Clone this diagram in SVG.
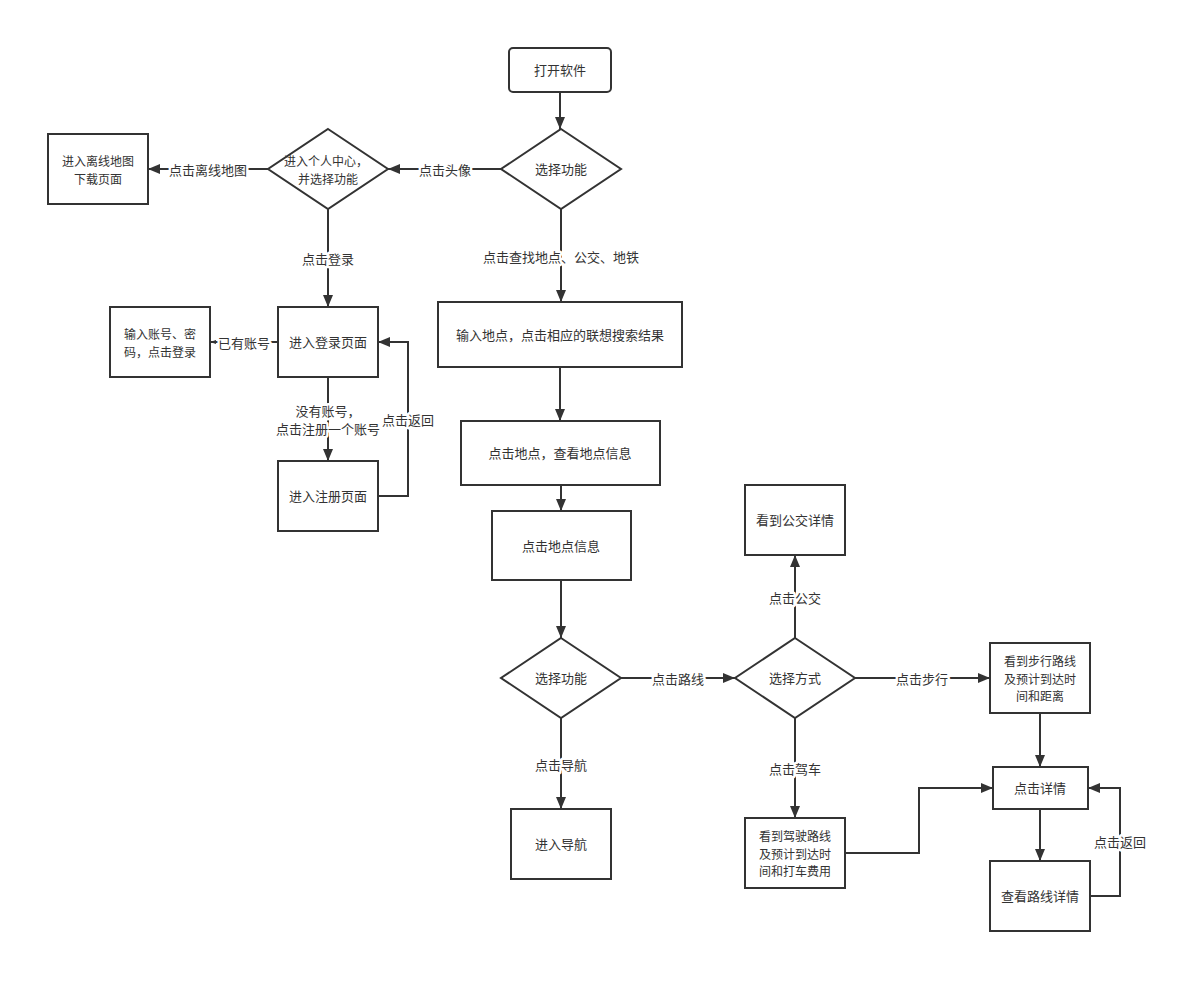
<svg xmlns="http://www.w3.org/2000/svg" width="1182" height="993" viewBox="0 0 1182 993">
<defs>
<marker id="arr" markerUnits="userSpaceOnUse" markerWidth="12" markerHeight="12" viewBox="0 0 12 12" refX="12" refY="6" orient="auto"><path d="M0,1 L12,6 L0,11 Z" fill="#333"/></marker>
<marker id="arrs" markerUnits="userSpaceOnUse" markerWidth="6" markerHeight="6" viewBox="0 0 6 6" refX="6" refY="3" orient="auto"><path d="M0,1 L6,3 L0,5 Z" fill="#333"/></marker>
<style>
.n{fill:#fff;stroke:#333;stroke-width:2}
.t{font-family:"Noto Sans CJK SC","Noto Sans",sans-serif;font-size:13px;fill:#333;text-anchor:middle;dominant-baseline:central}
.m{font-size:12px}
.l{font-family:"Noto Sans CJK SC","Noto Sans",sans-serif;font-size:13px;fill:#333;text-anchor:middle;dominant-baseline:central;stroke:#fff;stroke-width:5;paint-order:stroke;stroke-linejoin:round}
.c{fill:none;stroke:#333;stroke-width:2;marker-end:url(#arr)}
</style>
</defs>
<rect width="1182" height="993" fill="#fff"/>
<g id="connectors">
<path class="c" d="M560,92 L560,129"/>
<path class="c" d="M501,169 L388,169"/>
<path class="c" d="M268,169 L148,169"/>
<path class="c" d="M328,209 L328,307"/>
<path class="c" d="M561,209 L561,302"/>
<path class="c" style="marker-end:url(#arrs)" d="M278,342 L210,342"/>
<path class="c" d="M328,377 L328,461"/>
<path class="c" d="M378,496 L408,496 L408,342 L378,342"/>
<path class="c" d="M560,367 L560,421"/>
<path class="c" d="M561,485 L561,511"/>
<path class="c" d="M561,580 L561,638"/>
<path class="c" d="M621,678 L735,678"/>
<path class="c" d="M561,718 L561,809"/>
<path class="c" d="M795,638 L795,555"/>
<path class="c" d="M795,718 L795,818"/>
<path class="c" d="M855,678 L990,678"/>
<path class="c" d="M1040,713 L1040,767"/>
<path class="c" d="M845,853 L919,853 L919,788 L993,788"/>
<path class="c" d="M1040,809 L1040,861"/>
<path class="c" d="M1090,896 L1120,896 L1120,788 L1088,788"/>
<text class="l" x="445" y="169">点击头像</text>
<text class="l" x="208" y="169">点击离线地图</text>
<text class="l" x="328" y="258">点击登录</text>
<text class="l" x="561" y="256">点击查找地点、公交、地铁</text>
<text class="l" x="244" y="342">已有账号</text>
<text class="l m"><tspan x="328" y="410">没有账号，</tspan><tspan x="328" y="427.5">点击注册一个账号</tspan></text>
<text class="l" x="408" y="419">点击返回</text>
<text class="l" x="678" y="678">点击路线</text>
<text class="l" x="561" y="764">点击导航</text>
<text class="l" x="795" y="597">点击公交</text>
<text class="l" x="795" y="768">点击驾车</text>
<text class="l" x="922" y="678">点击步行</text>
<text class="l" x="1120" y="841">点击返回</text>
</g>
<g id="start"><rect class="n" x="509" y="48" width="102" height="44" rx="4"/><text class="t" x="560" y="69">打开软件</text></g>
<g id="choose1"><path class="n" d="M561,129 L621,169 L561,209 L501,169 Z"/><text class="t" x="561" y="168">选择功能</text></g>
<g id="personal"><path class="n" d="M328,129 L388,169 L328,209 L268,169 Z"/><text class="t m"><tspan x="326" y="160">进入个人中心，</tspan><tspan x="328" y="177.5">并选择功能</tspan></text></g>
<g id="offline"><rect class="n" x="48" y="134" width="100" height="70"/><text class="t m"><tspan x="98" y="160">进入离线地图</tspan><tspan x="98" y="177.5">下载页面</tspan></text></g>
<g id="login"><rect class="n" x="278" y="307" width="100" height="70"/><text class="t" x="328" y="341">进入登录页面</text></g>
<g id="account"><rect class="n" x="110" y="307" width="100" height="70"/><text class="t m"><tspan x="160" y="333">输入账号、密</tspan><tspan x="160" y="350.5">码，点击登录</tspan></text></g>
<g id="register"><rect class="n" x="278" y="461" width="100" height="70"/><text class="t" x="328" y="495">进入注册页面</text></g>
<g id="input"><rect class="n" x="438" y="302" width="244" height="65"/><text class="t" x="560" y="334">输入地点，点击相应的联想搜索结果</text></g>
<g id="place"><rect class="n" x="461" y="421" width="199" height="64"/><text class="t" x="560" y="452">点击地点，查看地点信息</text></g>
<g id="placeinfo"><rect class="n" x="492" y="511" width="139" height="69"/><text class="t" x="561" y="545">点击地点信息</text></g>
<g id="choose2"><path class="n" d="M561,638 L621,678 L561,718 L501,678 Z"/><text class="t" x="561" y="677">选择功能</text></g>
<g id="nav"><rect class="n" x="511" y="809" width="100" height="70"/><text class="t" x="561" y="843">进入导航</text></g>
<g id="mode"><path class="n" d="M795,638 L855,678 L795,718 L735,678 Z"/><text class="t" x="795" y="677">选择方式</text></g>
<g id="bus"><rect class="n" x="745" y="485" width="100" height="70"/><text class="t" x="795" y="519">看到公交详情</text></g>
<g id="drive"><rect class="n" x="745" y="818" width="100" height="70"/><text class="t m"><tspan x="795" y="835">看到驾驶路线</tspan><tspan x="795" y="852.5">及预计到达时</tspan><tspan x="795" y="870">间和打车费用</tspan></text></g>
<g id="walk"><rect class="n" x="990" y="643" width="100" height="70"/><text class="t m"><tspan x="1040" y="660">看到步行路线</tspan><tspan x="1040" y="677.5">及预计到达时</tspan><tspan x="1040" y="695">间和距离</tspan></text></g>
<g id="detail"><rect class="n" x="993" y="767" width="95" height="42"/><text class="t" x="1040" y="787">点击详情</text></g>
<g id="routedetail"><rect class="n" x="990" y="861" width="100" height="70"/><text class="t" x="1040" y="895">查看路线详情</text></g>
</svg>
